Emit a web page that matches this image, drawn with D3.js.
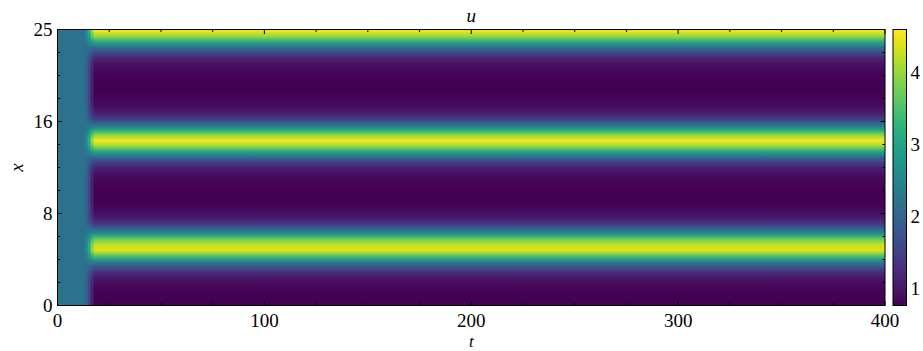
<!DOCTYPE html>
<html>
<head>
<meta charset="utf-8">
<script src="https://cdn.jsdelivr.net/npm/d3@7"></script>
<style>
  body { margin: 0; background: #fff; }
</style>
</head>
<body>
<div id="chart"></div>
<script>
// domain length in x and sample positions of the profiles
const L = 25.13
const xGrid = d3.range(0, 25.5, 0.5).concat([L])

// columns in t: each profile holds from tBreaks[i] to tBreaks[i + 1]
const tBreaks = [0, 13, 14.5, 16, 17.5, 400]
const uInit = [2.2]
const uT13 = [2.03, 2.03, 2.03, 2.03, 2.04, 2.06, 2.09, 2.15, 2.24, 2.36, 2.46, 2.45, 2.39, 2.27, 2.17, 2.1, 2.06, 2.04, 2.03, 2.03,
  2.03, 2.03, 2.03, 2.04, 2.05, 2.07, 2.11, 2.19, 2.3, 2.42, 2.48, 2.42, 2.3, 2.19, 2.11, 2.07, 2.05, 2.04, 2.03, 2.03,
  2.03, 2.03, 2.03, 2.04, 2.05, 2.07, 2.12, 2.2, 2.31, 2.42, 2.48, 2.49]
const uT14 = [1.56, 1.56, 1.57, 1.58, 1.61, 1.66, 1.77, 2.0, 2.34, 2.79, 3.19, 3.15, 2.9, 2.47, 2.09, 1.82, 1.68, 1.62, 1.58, 1.57,
  1.56, 1.56, 1.57, 1.59, 1.62, 1.71, 1.86, 2.16, 2.56, 3.01, 3.26, 3.01, 2.56, 2.16, 1.86, 1.71, 1.62, 1.59, 1.57, 1.56,
  1.56, 1.57, 1.57, 1.6, 1.64, 1.73, 1.91, 2.2, 2.61, 3.01, 3.24, 3.28]
const uT16 = [1.06, 1.06, 1.07, 1.1, 1.14, 1.24, 1.44, 1.84, 2.44, 3.24, 3.96, 3.88, 3.44, 2.68, 2.0, 1.52, 1.28, 1.16, 1.1, 1.07,
  1.06, 1.06, 1.08, 1.11, 1.18, 1.32, 1.6, 2.12, 2.84, 3.64, 4.08, 3.64, 2.84, 2.12, 1.6, 1.32, 1.18, 1.11, 1.08, 1.06,
  1.06, 1.07, 1.09, 1.13, 1.2, 1.36, 1.68, 2.2, 2.92, 3.64, 4.04, 4.12]
const uSteady = [0.78, 0.78, 0.79, 0.82, 0.88, 1.0, 1.25, 1.75, 2.5, 3.5, 4.4, 4.3, 3.75, 2.8, 1.95, 1.35, 1.05, 0.9, 0.82, 0.79,
  0.78, 0.78, 0.8, 0.84, 0.92, 1.1, 1.45, 2.1, 3.0, 4.0, 4.55, 4.0, 3.0, 2.1, 1.45, 1.1, 0.92, 0.84, 0.8, 0.78,
  0.78, 0.79, 0.81, 0.86, 0.95, 1.15, 1.55, 2.2, 3.1, 4.0, 4.5, 4.6]
const profiles = [uInit, uT13, uT14, uT16, uSteady]

// axis ticks
const tTicks = [0, 100, 200, 300, 400]
const xTickLabels = ['0', '8', '16', '25']
const cTicks = [1, 2, 3, 4]
const uRange = [0.77, 4.6]

const width = 923
const height = 351
const m = { l: 57.5, r: 885, t: 29.5, b: 305.5 }
const cb = { l: 893, r: 906.5 }
const fontFamily = "'Liberation Serif', 'Times New Roman', serif"

const svg = d3.select('#chart').append('svg')
  .attr('width', width).attr('height', height)
const defs = svg.append('defs')

function label (sel) {
  return sel.style('font-family', fontFamily).style('font-size', '19px').attr('fill', '#000')
}

const tScale = d3.scaleLinear().domain([0, 400]).range([m.l, m.r])
const xScale = d3.scaleLinear().domain([0, L]).range([m.b, m.t])
const color = d3.scaleSequential(d3.interpolateViridis).domain(uRange)
const cScale = d3.scaleLinear().domain(uRange).range([m.b, m.t])

// heatmap columns, each one a vertical gradient through the colour scale
profiles.forEach(function (p, i) {
  let fill
  if (p.length === 1) {
    fill = color(p[0])
  } else {
    const g = defs.append('linearGradient').attr('id', 'col' + i)
      .attr('gradientUnits', 'userSpaceOnUse')
      .attr('x1', 0).attr('x2', 0)
      .attr('y1', xScale(0)).attr('y2', xScale(L))
    g.selectAll('stop').data(p).enter().append('stop')
      .attr('offset', (d, j) => xGrid[j] / L)
      .attr('stop-color', d => color(d))
    fill = 'url(#col' + i + ')'
  }
  const x0 = tScale(tBreaks[i])
  const x1 = tScale(tBreaks[i + 1])
  svg.append('rect')
    .attr('x', x0).attr('y', m.t)
    .attr('width', x1 - x0 + (i < profiles.length - 1 ? 0.6 : 0))
    .attr('height', m.b - m.t)
    .attr('fill', fill)
})

// frame
svg.append('rect')
  .attr('x', m.l).attr('y', m.t).attr('width', m.r - m.l).attr('height', m.b - m.t)
  .attr('fill', 'none').attr('stroke', '#000').attr('stroke-width', 1)

// inward ticks on all four sides
const ticks = svg.append('g').attr('stroke', '#000').attr('stroke-width', 1)
const tMinor = d3.range(0, 401, 25).filter(d => d % 100 !== 0)
function tTick (v, len) {
  const x = tScale(v)
  ticks.append('line').attr('x1', x).attr('x2', x).attr('y1', m.b).attr('y2', m.b - len)
  ticks.append('line').attr('x1', x).attr('x2', x).attr('y1', m.t).attr('y2', m.t + len)
}
tTicks.forEach(v => tTick(v, 4.5))
tMinor.forEach(v => tTick(v, 2.5))

const xMajor = [0, 1, 2, 3].map(k => k * L / 3)
const xMinor = d3.range(1, 12).filter(k => k % 4 !== 0).map(k => k * L / 12)
function xTick (v, len) {
  const y = xScale(v)
  ticks.append('line').attr('x1', m.l).attr('x2', m.l + len).attr('y1', y).attr('y2', y)
  ticks.append('line').attr('x1', m.r).attr('x2', m.r - len).attr('y1', y).attr('y2', y)
}
xMajor.forEach(v => xTick(v, 4.5))
xMinor.forEach(v => xTick(v, 2.5))

// tick labels
svg.append('g').selectAll('text').data(tTicks).enter().append('text')
  .call(label)
  .attr('x', d => tScale(d)).attr('y', m.b + 21.5)
  .attr('text-anchor', 'middle')
  .text(d => d)

svg.append('g').selectAll('text').data(xMajor).enter().append('text')
  .call(label)
  .attr('x', m.l - 5).attr('y', d => xScale(d) + 6.5)
  .attr('text-anchor', 'end')
  .text((d, i) => xTickLabels[i])

// axis titles
svg.append('text').call(label).attr('x', tScale(200)).attr('y', 22)
  .attr('text-anchor', 'middle').style('font-style', 'italic').text('u')
svg.append('text').call(label).style('font-size', '17px')
  .attr('x', tScale(200)).attr('y', 346.5)
  .attr('text-anchor', 'middle').style('font-style', 'italic').text('t')
svg.append('text').call(label)
  .attr('transform', 'translate(23,' + (xScale(L / 2)) + ') rotate(-90)')
  .attr('text-anchor', 'middle').style('font-style', 'italic').text('x')

// colorbar
const cg = defs.append('linearGradient').attr('id', 'cbar')
  .attr('x1', 0).attr('x2', 0).attr('y1', 1).attr('y2', 0)
cg.selectAll('stop').data(d3.range(0, 1.0001, 0.05)).enter().append('stop')
  .attr('offset', d => d)
  .attr('stop-color', d => d3.interpolateViridis(d))
svg.append('rect')
  .attr('x', cb.l).attr('y', m.t).attr('width', cb.r - cb.l).attr('height', m.b - m.t)
  .attr('fill', 'url(#cbar)').attr('stroke', '#000').attr('stroke-width', 1)

const cMinor = d3.range(0.8, 4.61, 0.2).filter(d => Math.abs(d - Math.round(d)) > 0.01)
cTicks.forEach(v => {
  ticks.append('line').attr('x1', cb.r).attr('x2', cb.r - 4.5)
    .attr('y1', cScale(v)).attr('y2', cScale(v))
})
cMinor.forEach(v => {
  ticks.append('line').attr('x1', cb.r).attr('x2', cb.r - 2.5)
    .attr('y1', cScale(v)).attr('y2', cScale(v))
})
svg.append('g').selectAll('text').data(cTicks).enter().append('text')
  .call(label)
  .attr('x', cb.r + 4).attr('y', d => cScale(d) + 6.5)
  .text(d => d)
</script>
</body>
</html>
